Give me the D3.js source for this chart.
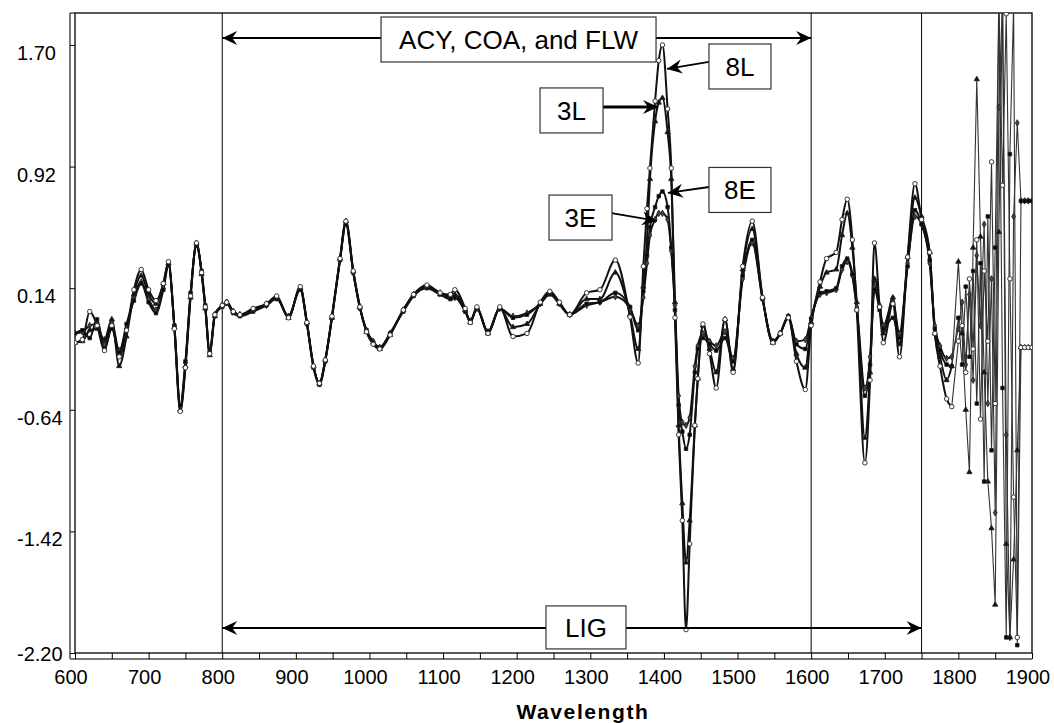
<!DOCTYPE html>
<html>
<head>
<meta charset="utf-8">
<script src="https://cdn.jsdelivr.net/npm/d3@7"></script>
<style>
  body { margin: 0; background: #fff; }
  svg { display: block; font-family: Arial, "Liberation Sans", sans-serif; }
</style>
</head>
<body>
<svg width="1054" height="723"></svg>
<script>
// wavelength grid (nm)
const wavelength = [
  600,610,620,630,640,650,660,670,680,690,
  700,710,720,727,735,743,750,757,765,772,
  777,783,790,800,806,815,824,842,860,874,
  890,906,915,924,932,940,949,960,968,978,
  987,996,1005,1014,1028,1046,1060,1078,1096,1110,
  1116,1130,1137,1146,1161,1177,1195,1214,1232,1245,
  1258,1272,1295,1313,1334,1354,1365,1372,1377,1381,
  1388,1393,1398,1405,1410,1415,1420,1425,1430,1435,
  1442,1446,1453,1462,1471,1483,1494,1507,1520,1534,
  1548,1558,1569,1580,1592,1600,1612,1621,1634,1642,
  1649,1656,1662,1673,1680,1686,1693,1698,1711,1720,
  1731,1741,1750,1761,1768,1775,1784,1791,1800,1805,
  1810,1815,1820,1825,1830,1835,1840,1845,1850,1855,
  1860,1865,1870,1875,1880,1885,1890,1895,1900
];

const s3E = [
  -0.15,-0.14,-0.10,-0.09,-0.22,-0.08,-0.26,-0.12,0.08,0.18,
  0.07,0.00,0.14,0.29,-0.10,-0.62,-0.34,0.10,0.42,0.24,
  0.02,-0.27,-0.03,0.03,0.05,-0.01,-0.03,0.00,0.03,0.08,
  -0.04,0.14,-0.08,-0.36,-0.47,-0.32,-0.05,0.32,0.56,0.24,
  0.02,-0.13,-0.20,-0.24,-0.15,0.00,0.10,0.15,0.11,0.08,
  0.08,0.00,-0.07,0.01,-0.14,0.01,-0.04,-0.02,0.04,0.11,
  0.04,-0.03,0.03,0.05,0.085,0.01,-0.10,0.08,0.30,0.48,
  0.58,0.62,0.62,0.58,0.38,0.03,-0.55,-0.72,-0.74,-0.69,
  -0.36,-0.23,-0.15,-0.20,-0.23,-0.14,-0.31,0.20,0.43,0.07,
  -0.20,-0.15,-0.04,-0.20,-0.19,-0.05,0.10,0.11,0.13,0.26,
  0.31,0.22,0.02,-0.50,-0.30,0.15,0.02,-0.10,0.05,-0.15,
  0.30,0.60,0.55,0.30,-0.10,-0.23,-0.31,-0.30,-0.12,0.05,
  -0.35,0.10,-0.45,0.35,-0.10,0.55,-0.60,0.20,-1.30,1.30,
  2.00,-0.80,-2.10,0.60,1.20,0.70,0.70,0.70,0.70
];

const s3L = [
  -0.21,-0.20,-0.13,-0.12,-0.19,-0.06,-0.36,-0.17,0.10,0.22,
  0.10,0.04,0.17,0.30,-0.11,-0.64,-0.36,0.08,0.43,0.23,
  0.01,-0.29,-0.04,0.03,0.05,-0.01,-0.03,0.00,0.04,0.08,
  -0.05,0.14,-0.08,-0.36,-0.47,-0.32,-0.05,0.33,0.57,0.25,
  0.02,-0.14,-0.21,-0.25,-0.16,0.00,0.10,0.15,0.10,0.09,
  0.10,0.00,-0.08,0.01,-0.15,0.01,-0.11,-0.09,0.04,0.11,
  0.04,-0.03,0.07,0.07,0.24,-0.03,-0.25,0.15,0.45,0.84,
  1.21,1.33,1.36,1.14,0.84,0.05,-0.74,-1.24,-1.62,-1.35,
  -0.74,-0.44,-0.10,-0.25,-0.40,-0.06,-0.38,0.26,0.52,0.08,
  -0.21,-0.15,-0.05,-0.28,-0.37,-0.08,0.15,0.24,0.26,0.48,
  0.62,0.40,0.05,-0.82,-0.40,0.20,0.03,-0.15,0.08,-0.22,
  0.34,0.72,0.60,0.37,-0.15,-0.30,-0.45,-0.36,0.31,-0.15,
  -0.64,-1.04,0.40,1.48,0.47,-0.40,-1.10,-1.40,-1.89,0.50,
  2.00,-1.50,-2.10,-1.60,-0.90,-0.24,-0.24,-0.24,-0.24
];

const s8E = [
  -0.15,-0.13,-0.18,-0.06,-0.25,-0.12,-0.27,-0.09,0.06,0.17,
  0.05,-0.02,0.13,0.29,-0.10,-0.61,-0.33,0.11,0.41,0.25,
  0.03,-0.27,-0.03,0.02,0.04,-0.02,-0.04,-0.01,0.03,0.07,
  -0.04,0.13,-0.09,-0.37,-0.48,-0.33,-0.05,0.32,0.55,0.24,
  0.01,-0.13,-0.21,-0.24,-0.15,-0.01,0.09,0.14,0.10,0.07,
  0.08,-0.01,-0.07,0.01,-0.14,0.01,-0.05,-0.03,0.04,0.10,
  0.04,-0.03,0.04,0.05,0.11,0.02,-0.13,0.12,0.35,0.53,
  0.66,0.73,0.76,0.66,0.40,0.00,-0.61,-0.78,-0.89,-0.80,
  -0.40,-0.25,-0.18,-0.22,-0.26,-0.18,-0.33,0.22,0.45,0.07,
  -0.20,-0.15,-0.04,-0.22,-0.25,-0.06,0.11,0.12,0.14,0.28,
  0.33,0.23,0.00,-0.55,-0.35,0.13,0.00,-0.12,-0.05,-0.18,
  0.28,0.64,0.55,0.32,-0.12,-0.26,-0.35,-0.36,-0.05,-0.35,
  0.15,-0.30,0.25,-0.60,0.30,-1.10,0.60,-0.90,0.40,2.00,
  -0.50,-2.10,1.00,1.95,-2.15,0.70,0.70,0.70,0.70
];

const s8L = [
  -0.21,-0.19,-0.01,-0.10,-0.26,-0.10,-0.30,-0.13,0.13,0.26,
  0.13,0.06,0.17,0.31,-0.12,-0.65,-0.37,0.09,0.43,0.24,
  0.02,-0.28,-0.03,0.03,0.05,-0.01,-0.03,0.01,0.04,0.09,
  -0.05,0.15,-0.08,-0.36,-0.47,-0.32,-0.04,0.33,0.57,0.25,
  0.02,-0.14,-0.22,-0.25,-0.16,0.00,0.10,0.16,0.11,0.10,
  0.13,0.01,-0.08,0.02,-0.15,0.02,-0.17,-0.15,0.05,0.12,
  0.05,-0.03,0.11,0.13,0.32,-0.045,-0.34,0.28,0.65,0.91,
  1.34,1.60,1.70,1.29,0.91,-0.05,-0.80,-1.35,-2.05,-1.50,
  -0.74,-0.44,-0.09,-0.28,-0.50,-0.06,-0.40,0.28,0.57,0.08,
  -0.21,-0.15,-0.05,-0.33,-0.51,-0.10,0.18,0.33,0.37,0.58,
  0.71,0.45,0.00,-0.98,-0.45,0.43,0.02,-0.21,0.04,-0.30,
  0.34,0.81,0.58,0.37,-0.15,-0.36,-0.57,-0.62,-0.20,-0.10,
  -0.40,0.20,-0.25,0.45,-0.70,0.25,-0.20,0.95,-0.60,2.00,
  0.80,1.90,0.20,-1.20,-2.10,-0.24,-0.24,-0.24,-0.24
];

const yTicks = [1.70, 0.92, 0.14, -0.64, -1.42, -2.20];
const xTicks = [600,650,700,750,800,850,900,950,1000,1050,1100,1150,1200,1250,1300,1350,1400,1450,1500,1550,1600,1650,1700,1750,1800,1850,1900];
const refLines = [800, 1600, 1750];
const noisyFrom = 1791;   // past this point the spectra are plotted as plain jagged segments

const series = [
  {name: '3E', values: s3E, symbol: d3.symbolDiamond, size: 12, fill: '#444'},
  {name: '8E', values: s8E, symbol: d3.symbolSquare, size: 12, fill: '#000'},
  {name: '3L', values: s3L, symbol: d3.symbolTriangle, size: 12, fill: '#111'},
  {name: '8L', values: s8L, symbol: d3.symbolCircle, size: 16, fill: '#fff'}
];

const [pLeft, pRight, pTop, pBottom] = [75, 1032, 13, 653];
const font = 'Arial, "Liberation Sans", sans-serif';

const svg = d3.select('svg');

const xScale = d3.scaleLinear().domain([600, 1900]).range([pLeft, pRight]);
const yScale = d3.scaleLinear().domain([-2.20, 1.905]).range([pBottom, pTop]);

// outer grey axis lines
svg.append('line').attr('x1', pLeft - 5).attr('x2', pLeft - 5).attr('y1', pTop).attr('y2', pBottom + 6)
    .attr('stroke', '#777').attr('stroke-width', 2);
svg.append('line').attr('x1', pLeft - 5).attr('x2', pRight).attr('y1', pBottom + 6).attr('y2', pBottom + 6)
    .attr('stroke', '#777').attr('stroke-width', 2);
svg.append('line').attr('x1', pLeft - 5).attr('x2', pLeft).attr('y1', pTop).attr('y2', pTop)
    .attr('stroke', '#000');

// plot frame
svg.append('rect')
    .attr('x', pLeft).attr('y', pTop)
    .attr('width', pRight - pLeft).attr('height', pBottom - pTop)
    .attr('fill', 'none').attr('stroke', '#000').attr('stroke-width', 1.3);

// vertical reference lines
svg.selectAll('.ref')
    .data(refLines)
    .enter()
    .append('line')
        .attr('class', 'ref')
        .attr('x1', d => xScale(d)).attr('x2', d => xScale(d))
        .attr('y1', pTop).attr('y2', pBottom)
        .attr('stroke', '#000').attr('stroke-width', 1);

// x axis
svg.append('g')
    .attr('transform', `translate(0, ${pBottom})`)
    .call(d3.axisBottom(xScale).tickValues(xTicks).tickSize(6).tickFormat(d => d % 100 === 0 ? d : ''))
    .call(g => g.select('.domain').remove())
    .call(g => g.selectAll('line').attr('stroke', '#000'))
    .call(g => g.selectAll('text')
        .attr('y', 31).attr('dy', null).attr('x', -4.5)
        .style('font-family', font).style('font-size', '20px').attr('fill', '#000'));

// y axis
svg.append('g')
    .attr('transform', `translate(${pLeft}, 0)`)
    .call(d3.axisLeft(yScale).tickValues(yTicks).tickSize(5).tickFormat(d => d.toFixed(2)))
    .call(g => g.select('.domain').remove())
    .call(g => g.selectAll('line').attr('stroke', '#000'))
    .call(g => g.selectAll('text')
        .attr('x', -58).attr('dy', null)
        .attr('y', d => d === -2.20 ? 7 : 14.5)
        .attr('text-anchor', 'start')
        .style('font-family', font).style('font-size', '20px').attr('fill', '#000'));

// x title
svg.append('text')
    .attr('x', xScale(1290)).attr('y', 719)
    .attr('text-anchor', 'middle')
    .style('font-family', font).style('font-size', '21px').style('font-weight', 'bold')
    .style('letter-spacing', '1.6px')
    .text('Wavelength');

// series
svg.append('clipPath').attr('id', 'plotclip')
    .append('rect').attr('x', pLeft).attr('y', pTop).attr('width', pRight - pLeft).attr('height', pBottom - pTop);

const plot = svg.append('g').attr('clip-path', 'url(#plotclip)');

const smoothLine = d3.line()
    .defined((d, i) => wavelength[i] <= noisyFrom)
    .x((d, i) => xScale(wavelength[i]))
    .y(d => yScale(d))
    .curve(d3.curveMonotoneX);

const noisyLine = d3.line()
    .defined((d, i) => wavelength[i] >= noisyFrom)
    .x((d, i) => xScale(wavelength[i]))
    .y(d => yScale(d));

series.forEach(s => {
    plot.append('path')
        .attr('d', smoothLine(s.values))
        .attr('fill', 'none')
        .attr('stroke', '#111')
        .attr('stroke-width', 2);
    plot.append('path')
        .attr('d', noisyLine(s.values))
        .attr('fill', 'none')
        .attr('stroke', '#333')
        .attr('stroke-width', 1.1);
});

series.forEach(s => {
    plot.selectAll(null)
        .data(s.values)
        .enter()
        .append('path')
            .attr('d', d3.symbol().type(s.symbol).size(s.size))
            .attr('transform', (d, i) => `translate(${xScale(wavelength[i])}, ${yScale(d)})`)
            .attr('fill', s.fill)
            .attr('stroke', '#222')
            .attr('stroke-width', 0.9);
});

// annotations
function arrowHead(x1, y1, x2, y2) {
    const a = Math.atan2(y2 - y1, x2 - x1);
    const pts = [[0, 0], [-15, -7], [-10, 0], [-15, 7]].map(([px, py]) => [
        x2 + px * Math.cos(a) - py * Math.sin(a),
        y2 + px * Math.sin(a) + py * Math.cos(a)
    ]);
    svg.append('polygon').attr('points', pts.map(p => p.join(',')).join(' ')).attr('fill', '#000');
}

function arrow(x1, y1, x2, y2, w, both) {
    svg.append('line')
        .attr('x1', x1).attr('y1', y1).attr('x2', x2).attr('y2', y2)
        .attr('stroke', '#000').attr('stroke-width', w);
    arrowHead(x1, y1, x2, y2);
    if (both) arrowHead(x2, y2, x1, y1);
}

function label(cx, cy, w, h, txt) {
    svg.append('rect')
        .attr('x', cx - w / 2).attr('y', cy - h / 2).attr('width', w).attr('height', h)
        .attr('fill', '#fff').attr('stroke', '#333').attr('stroke-width', 1.2);
    svg.append('text')
        .attr('x', cx).attr('y', cy + 9.5)
        .attr('text-anchor', 'middle')
        .style('font-family', font).style('font-size', '26px')
        .text(txt);
}

arrow(xScale(800), yScale(1.745), xScale(1600), yScale(1.745), 2, true);
arrow(xScale(800), yScale(-2.04), xScale(1750), yScale(-2.04), 2, true);

arrow(xScale(1274.5) + 31, yScale(1.302), xScale(1392), yScale(1.302), 3);
arrow(xScale(1286.7) + 31, yScale(0.622), xScale(1390.6), yScale(0.571), 1.8);
arrow(xScale(1503.3) - 31, yScale(1.591), xScale(1404.2), yScale(1.546), 1.8);
arrow(xScale(1503.3) - 31, yScale(0.789), xScale(1405.5), yScale(0.751), 1.8);

label(xScale(1202.5), yScale(1.735), 275, 45, 'ACY, COA, and FLW');
label(xScale(1274.5), yScale(1.28), 63, 45, '3L');
label(xScale(1286.7), yScale(0.593), 63, 45, '3E');
label(xScale(1503.3), yScale(1.562), 62, 45, '8L');
label(xScale(1503.3), yScale(0.770), 62, 45, '8E');
label(xScale(1294.1), yScale(-2.036), 80, 43, 'LIG');
</script>
</body>
</html>
